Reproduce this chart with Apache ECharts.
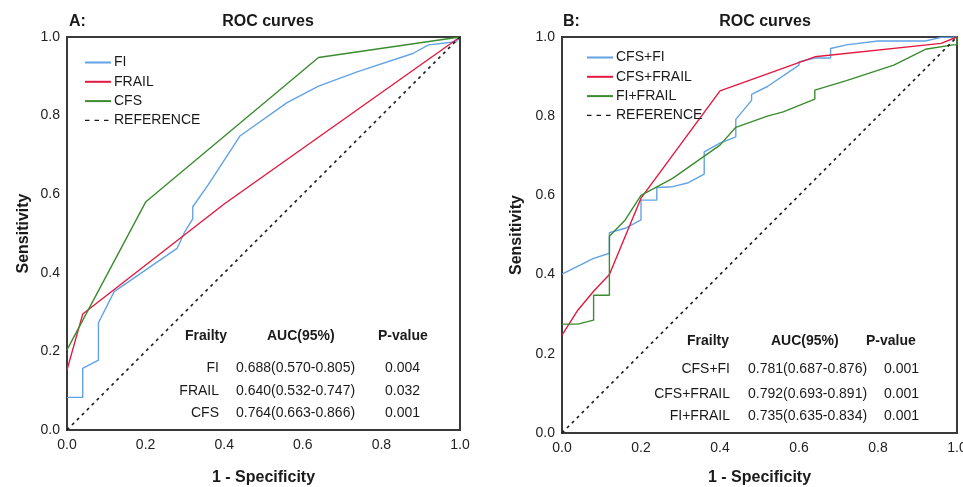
<!DOCTYPE html>
<html>
<head>
<meta charset="utf-8">
<script src="https://cdn.jsdelivr.net/npm/echarts@6/dist/echarts.min.js"></script>
<style>
  html, body { margin: 0; padding: 0; background: #fff; }
  #chart { width: 963px; height: 487px; }
</style>
</head>
<body>
<div id="chart"></div>
<script>
// panel A: single indices, [1 - specificity, sensitivity]
var fiA = [[0,0.083],[0.04,0.083],[0.04,0.157],[0.08,0.178],[0.08,0.273],[0.12,0.352],[0.28,0.462],[0.30,0.505],[0.32,0.537],[0.32,0.568],[0.36,0.625],[0.44,0.748],[0.56,0.833],[0.64,0.875],[0.74,0.912],[0.88,0.958],[0.92,0.98],[0.99,0.988],[1,1]];
var frailA = [[0,0.153],[0.04,0.295],[0.40,0.575],[1,1]];
var cfsA = [[0,0.204],[0.2,0.58],[0.64,0.948],[1,1]];

// panel B: combinations
var cfsFiB = [[0,0.401],[0.08,0.441],[0.12,0.454],[0.12,0.506],[0.16,0.517],[0.2,0.538],[0.2,0.588],[0.24,0.588],[0.24,0.62],[0.28,0.622],[0.32,0.632],[0.36,0.654],[0.36,0.71],[0.40,0.732],[0.44,0.748],[0.44,0.792],[0.48,0.84],[0.48,0.855],[0.52,0.875],[0.60,0.929],[0.60,0.937],[0.64,0.947],[0.68,0.947],[0.68,0.971],[0.72,0.98],[0.80,0.99],[0.92,0.99],[0.96,0.999],[1,1]];
var cfsFrailB = [[0,0.247],[0.04,0.31],[0.08,0.358],[0.12,0.40],[0.2,0.593],[0.4,0.864],[0.64,0.95],[0.96,0.984],[1,1]];
var fiFrailB = [[0,0.275],[0.04,0.275],[0.08,0.285],[0.08,0.348],[0.12,0.348],[0.12,0.497],[0.16,0.538],[0.2,0.6],[0.28,0.643],[0.40,0.727],[0.44,0.772],[0.52,0.80],[0.56,0.811],[0.64,0.843],[0.64,0.866],[0.72,0.89],[0.84,0.929],[0.92,0.969],[0.99,0.98],[1,0.98],[1,1]];

var refLine = [[0,0],[1,1]];

// AUC tables
var tableHead = ['Frailty', 'AUC(95%)', 'P-value'];
var namesA = ['FI', 'FRAIL', 'CFS'];
var aucA = ['0.688(0.570-0.805)', '0.640(0.532-0.747)', '0.764(0.663-0.866)'];
var pA = ['0.004', '0.032', '0.001'];
var namesB = ['CFS+FI', 'CFS+FRAIL', 'FI+FRAIL'];
var aucB = ['0.781(0.687-0.876)', '0.792(0.693-0.891)', '0.735(0.635-0.834)'];
var pB = ['0.001', '0.001', '0.001'];

var FONT = 'Arial, "Liberation Sans", sans-serif';
var BLUE = '#62a3e6', RED = '#e3193f', GREEN = '#3b8c2f', INK = '#1a1a1a';

function valAxis(idx, name, gap, isY) {
    return {
        type: 'value', gridIndex: idx, min: 0, max: 1, interval: 0.2,
        name: name, nameLocation: 'middle', nameGap: gap,
        nameTextStyle: { fontFamily: FONT, fontSize: 16, fontWeight: 'bold', color: INK },
        axisLine: { show: true, onZero: false, lineStyle: { color: '#3a3a3a', width: 2 } },
        axisTick: { show: false },
        splitLine: { show: false },
        axisLabel: {
            margin: isY ? 7 : 8, fontFamily: FONT, fontSize: 14, color: '#222',
            formatter: function (v) { return v.toFixed(1); }
        }
    };
}

function line(name, data, color, idx, dashed) {
    return {
        name: name, type: 'line', data: data, xAxisIndex: idx, yAxisIndex: idx,
        symbol: 'none', silent: true, animation: false,
        lineStyle: { color: color, width: dashed ? 1.6 : 1.4, type: dashed ? [3, 4] : 'solid' },
        itemStyle: { color: color }
    };
}

function tableTexts(yHead, rowY, names, nameRight, aucX, pX, headX, aucs, ps) {
    var out = [];
    tableHead.forEach(function (h, i) {
        out.push({ type: 'text', left: headX[i], top: yHead,
            style: { text: h, font: 'bold 14px ' + FONT, fill: INK } });
    });
    names.forEach(function (n, i) {
        out.push({ type: 'text', x: nameRight, y: rowY[i],
            style: { text: n, font: '14px ' + FONT, fill: INK, textAlign: 'right' } });
        out.push({ type: 'text', x: aucX, y: rowY[i],
            style: { text: aucs[i], font: '14px ' + FONT, fill: INK } });
        out.push({ type: 'text', x: pX, y: rowY[i],
            style: { text: ps[i], font: '14px ' + FONT, fill: INK } });
    });
    return out;
}

var legendBase = {
    orient: 'vertical', itemWidth: 26, itemHeight: 12, itemGap: 5.3,
    itemStyle: { opacity: 0 },
    textStyle: { fontFamily: FONT, fontSize: 14, color: INK, padding: [0, 0, 0, -2] }
};
var refLegend = { name: 'REFERENCE', lineStyle: { type: [4.5, 5], width: 1.4 } };

var chart = echarts.init(document.getElementById('chart'));
chart.setOption({
    animation: false,
    backgroundColor: '#fff',
    title: [
        { text: 'ROC curves', left: 263, top: 9, textAlign: 'center',
          textStyle: { fontFamily: FONT, fontSize: 16, fontWeight: 'bold', color: INK } },
        { text: 'ROC curves', left: 760, top: 9, textAlign: 'center',
          textStyle: { fontFamily: FONT, fontSize: 16, fontWeight: 'bold', color: INK } },
        { text: 'A:', left: 64, top: 9,
          textStyle: { fontFamily: FONT, fontSize: 16, fontWeight: 'bold', color: INK } },
        { text: 'B:', left: 558, top: 9,
          textStyle: { fontFamily: FONT, fontSize: 16, fontWeight: 'bold', color: INK } }
    ],
    legend: [
        Object.assign({ left: 79, top: 50.5, data: ['FI', 'FRAIL', 'CFS', refLegend] }, legendBase),
        Object.assign({ left: 581, top: 45.5, data: ['CFS+FI', 'CFS+FRAIL', 'FI+FRAIL', refLegend] }, legendBase)
    ],
    grid: [
        { left: 67, right: 503, top: 37, bottom: 57, outerBoundsMode: 'none', containLabel: false,
          show: true, borderColor: '#3a3a3a', borderWidth: 2 },
        { left: 562, right: 6, top: 37, bottom: 54, outerBoundsMode: 'none', containLabel: false,
          show: true, borderColor: '#3a3a3a', borderWidth: 2 }
    ],
    xAxis: [valAxis(0, '1 - Specificity', 40, false), valAxis(1, '1 - Specificity', 37, false)],
    yAxis: [valAxis(0, 'Sensitivity', 35, true), valAxis(1, 'Sensitivity', 37, true)],
    series: [
        line('FI', fiA, BLUE, 0),
        line('FRAIL', frailA, RED, 0),
        line('CFS', cfsA, GREEN, 0),
        line('REFERENCE', refLine, INK, 0, true),
        line('CFS+FI', cfsFiB, BLUE, 1),
        line('CFS+FRAIL', cfsFrailB, RED, 1),
        line('FI+FRAIL', fiFrailB, GREEN, 1),
        line('REFERENCE', refLine, INK, 1, true)
    ],
    graphic: tableTexts(329, [361, 384, 406], namesA, 219, 236, 385, [185, 267, 378], aucA, pA)
        .concat(tableTexts(334, [362, 387, 409], namesB, 730, 748, 884, [687, 771, 866], aucB, pB))
});
</script>
</body>
</html>
